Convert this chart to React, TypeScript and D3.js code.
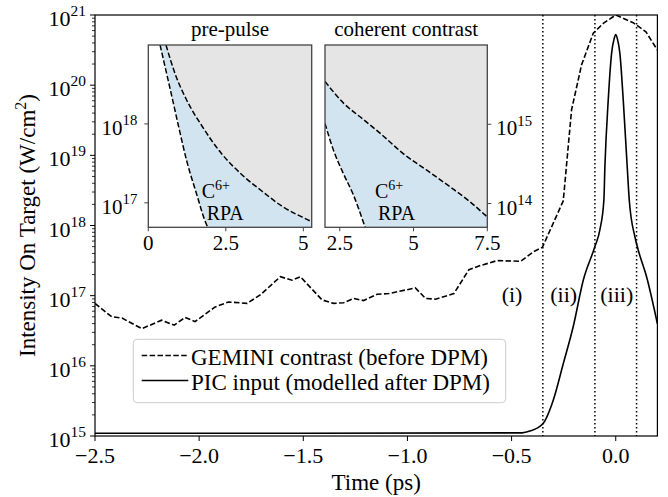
import React from 'react';
import * as d3 from 'd3';

// ---------------- DATA ----------------
// GEMINI measured contrast (dashed), time in ps, log10 intensity (W/cm^2)
const geminiTime = [-2.5, -2.42, -2.37, -2.275, -2.18, -2.12, -2.067, -2.02, -1.923, -1.859, -1.77, -1.707, -1.61, -1.554, -1.514, -1.41, -1.354, -1.306, -1.258, -1.21, -1.146, -1.09, -0.962, -0.913, -0.865, -0.777, -0.705, -0.649, -0.569, -0.457, -0.393, -0.352, -0.252, -0.212, -0.164, -0.108, -0.06, 0.0, 0.084, 0.145, 0.2];
const geminiLogI = [16.89, 16.7, 16.68, 16.53, 16.65, 16.58, 16.69, 16.63, 16.84, 16.91, 16.89, 17.01, 17.27, 17.22, 17.27, 16.94, 16.89, 16.9, 16.96, 16.93, 17.02, 17.03, 17.11, 16.96, 16.95, 17.03, 17.37, 17.43, 17.5, 17.49, 17.63, 17.69, 18.35, 19.65, 20.29, 20.74, 20.88, 21.0, 20.89, 20.76, 20.5];

// PIC input (solid)
const picTime = [-2.5, -1.5, -0.45, -0.412, -0.351, -0.3, -0.252, -0.204, -0.156, -0.1, -0.076, -0.057, -0.052, -0.036, -0.02, -0.008, 0.0, 0.008, 0.02, 0.036, 0.055, 0.065, 0.092, 0.108, 0.148, 0.2];
const picLogI = [15.04, 15.04, 15.045, 15.07, 15.17, 15.51, 16.03, 16.56, 17.22, 17.7, 17.94, 18.36, 18.84, 19.79, 20.45, 20.66, 20.72, 20.66, 20.45, 19.79, 18.84, 18.36, 17.84, 17.65, 17.27, 16.6];

const regionBounds = [-0.35, -0.1, 0.1];
const regionLabels = ['(i)', '(ii)', '(iii)'];

const xTicks = [-2.5, -2.0, -1.5, -1.0, -0.5, 0.0];
const yTickExps = [15, 16, 17, 18, 19, 20, 21];

const legendLabels = ['GEMINI contrast (before DPM)', 'PIC input (modelled after DPM)'];

// Inset 1: pre-pulse
const prePulseUpperX = [0.57, 0.86, 1.24, 1.72, 2.37, 3.01, 3.66, 4.3, 5.22, 5.27];
const prePulseUpperLog = [19.0, 18.64, 18.3, 17.98, 17.62, 17.36, 17.15, 16.96, 16.77, 16.76];
const prePulseLowerX = [0.38, 0.59, 0.81, 0.97, 1.24, 1.56, 1.83, 1.94];
const prePulseLowerLog = [19.0, 18.64, 18.26, 17.98, 17.53, 17.11, 16.77, 16.67];
const prePulseXTicks = [0, 2.5, 5];
const prePulseYTickExps = [17, 18];

// Inset 2: coherent contrast
const coherentUpperX = [2.0, 2.62, 3.3, 3.92, 4.65, 5.45, 6.24, 6.92, 7.5];
const coherentUpperLog = [15.54, 15.27, 15.06, 14.87, 14.63, 14.42, 14.21, 14.02, 13.83];
const coherentLowerX = [2.0, 2.28, 2.62, 2.96, 3.36];
const coherentLowerLog = [15.01, 14.68, 14.38, 14.11, 13.7];
const coherentXTicks = [2.5, 5, 7.5];
const coherentYTickExps = [14, 15];

const insetTitles = ['pre-pulse', 'coherent contrast'];

// ---------------- LAYOUT ----------------
const W = 668, H = 497;
const FONT = "'Liberation Serif', 'DejaVu Serif', serif";
const M = { left: 95, right: 657.4, top: 15, bottom: 436 };

const x = d3.scaleLinear().domain([-2.5, 0.2]).range([M.left, M.right]);
const y = d3.scaleLog().domain([1e15, 1e21]).range([M.bottom, M.top]);

const fmtX = d3.format('.1f');
const fmtInset = d3.format('~g');

const DASH = '5.5 2.4';
const BLUE = '#d2e4f0';
const GRAY = '#e5e5e5';

type Pt = [number, number];
const zip = (xs: number[], ls: number[]): Pt[] => xs.map((v, i) => [v, Math.pow(10, ls[i])]);

function Pow10({ x: px, y: py, exp, anchor, size }: { x: number; y: number; exp: number; anchor: string; size: number }) {
  return (
    <text x={px} y={py} textAnchor={anchor} fontSize={size} fontFamily={FONT} fill="#000">
      10<tspan dy={-size * 0.45} fontSize={size * 0.7}>{exp}</tspan>
    </text>
  );
}

interface InsetProps {
  id: string;
  left: number; right: number; top: number; bottom: number;
  xDomain: [number, number];
  yDomain: [number, number];
  upper: Pt[];
  lower: Pt[];
  xTicks: number[];
  yTickExps: number[];
  yAxisRight: boolean;
  title: string;
  lowerStartsAtTop: boolean;
}

function Inset(p: InsetProps) {
  const sx = d3.scaleLinear().domain(p.xDomain).range([p.left, p.right]);
  const sy = d3.scaleLog().domain(p.yDomain).range([p.bottom, p.top]);
  const line = d3.line<Pt>().x(d => sx(d[0])).y(d => sy(d[1])).curve(d3.curveMonotoneX);
  const upperPath = line(p.upper) || '';
  const lowerPath = line(p.lower) || '';
  const [x0, x1] = p.xDomain;
  const [yb, yt] = p.yDomain;
  // gray region above upper curve
  const grayPath = upperPath + `L${sx(x1)},${sy(yt)}L${sx(p.upper[0][0])},${sy(yt)}Z`;
  // white region below/left of lower curve
  const lastLower = p.lower[p.lower.length - 1];
  const whitePath = p.lowerStartsAtTop
    ? `M${sx(x0)},${sy(yt)}` + lowerPath.replace(/^M/, 'L') + `L${sx(lastLower[0])},${sy(yb)}L${sx(x0)},${sy(yb)}Z`
    : lowerPath + `L${sx(lastLower[0])},${sy(yb)}L${sx(x0)},${sy(yb)}Z`;
  const fs = 21;
  return (
    <g>
      <defs>
        <clipPath id={p.id}>
          <rect x={p.left} y={p.top} width={p.right - p.left} height={p.bottom - p.top} />
        </clipPath>
      </defs>
      <g clipPath={`url(#${p.id})`}>
        <rect x={p.left} y={p.top} width={p.right - p.left} height={p.bottom - p.top} fill={BLUE} />
        <path d={grayPath} fill={GRAY} />
        <path d={whitePath} fill="#fff" />
        <path d={upperPath} fill="none" stroke="#000" strokeWidth={1.5} strokeDasharray={DASH} />
        <path d={lowerPath} fill="none" stroke="#000" strokeWidth={1.5} strokeDasharray={DASH} />
      </g>
      <rect x={p.left} y={p.top} width={p.right - p.left} height={p.bottom - p.top} fill="none" stroke="#444" strokeWidth={1.3} />
      {p.xTicks.map(t => (
        <g key={`xt${t}`}>
          <line x1={sx(t)} x2={sx(t)} y1={p.bottom} y2={p.bottom + 4} stroke="#444" strokeWidth={1} />
          <text x={sx(t)} y={p.bottom + 23} textAnchor="middle" fontSize={fs} fontFamily={FONT}>{fmtInset(t)}</text>
        </g>
      ))}
      {p.yTickExps.map(e => {
        const yy = sy(Math.pow(10, e));
        return (
          <g key={`yt${e}`}>
            {p.yAxisRight
              ? <line x1={p.right} x2={p.right + 4} y1={yy} y2={yy} stroke="#444" strokeWidth={1} />
              : <line x1={p.left - 4} x2={p.left} y1={yy} y2={yy} stroke="#444" strokeWidth={1} />}
            {p.yAxisRight
              ? <Pow10 x={p.right + 9} y={yy + 11} exp={e} anchor="start" size={fs} />
              : <Pow10 x={p.left - 11} y={yy + 11} exp={e} anchor="end" size={fs} />}
          </g>
        );
      })}
      <text x={(p.left + p.right) / 2} y={p.top - 9} textAnchor="middle" fontSize={fs} fontFamily={FONT}>{p.title}</text>
    </g>
  );
}

export default function App() {
  const gemini = zip(geminiTime, geminiLogI);
  const pic = zip(picTime, picLogI);
  const gLine = d3.line<Pt>().x(d => x(d[0])).y(d => y(d[1]));
  const pLine = d3.line<Pt>().x(d => x(d[0])).y(d => y(d[1])).curve(d3.curveMonotoneX);

  const minorTicks: number[] = [];
  for (let e = 15; e < 21; e++) for (let k = 2; k <= 9; k++) minorTicks.push(k * Math.pow(10, e));

  const labelTimes = [regionBounds[0] - 0.148, (regionBounds[0] + regionBounds[1]) / 2 - 0.025, (regionBounds[1] + regionBounds[2]) / 2 + 0.005];
  const fs = 22;

  return (
    <svg width={W} height={H} style={{ position: 'absolute', left: 0, top: 0 }} fontFamily={FONT}>
      <rect width={W} height={H} fill="#fff" />
      <defs>
        <clipPath id="mainclip">
          <rect x={M.left} y={M.top} width={M.right - M.left} height={M.bottom - M.top} />
        </clipPath>
      </defs>

      <g clipPath="url(#mainclip)">
        {regionBounds.map(b => (
          <line key={b} x1={x(b)} x2={x(b)} y1={M.top} y2={M.bottom} stroke="#000" strokeWidth={1.5} strokeDasharray="1.5 2.5" />
        ))}
        <path d={gLine(gemini) || ''} fill="none" stroke="#000" strokeWidth={1.6} strokeDasharray={DASH} />
        <path d={pLine(pic) || ''} fill="none" stroke="#000" strokeWidth={1.6} />
      </g>

      {regionLabels.map((l, i) => (
        <text key={l} x={x(labelTimes[i])} y={302} textAnchor="middle" fontSize={fs}>{l}</text>
      ))}

      {/* frame */}
      <rect x={M.left} y={M.top} width={M.right - M.left} height={M.bottom - M.top} fill="none" stroke="#000" strokeWidth={1.2} />

      {/* x axis */}
      {xTicks.map(t => (
        <g key={t}>
          <line x1={x(t)} x2={x(t)} y1={M.bottom} y2={M.bottom + 5} stroke="#000" strokeWidth={1} />
          <text x={x(t)} y={M.bottom + 27} textAnchor="middle" fontSize={fs}>{fmtX(t)}</text>
        </g>
      ))}
      <text x={(M.left + M.right) / 2} y={490} textAnchor="middle" fontSize={23}>Time (ps)</text>

      {/* y axis */}
      {minorTicks.map(v => (
        <line key={v} x1={M.left - 3} x2={M.left} y1={y(v)} y2={y(v)} stroke="#000" strokeWidth={0.8} />
      ))}
      {yTickExps.map(e => (
        <g key={e}>
          <line x1={M.left - 5} x2={M.left} y1={y(Math.pow(10, e))} y2={y(Math.pow(10, e))} stroke="#000" strokeWidth={1} />
          <Pow10 x={86} y={y(Math.pow(10, e)) + 11} exp={e} anchor="end" size={fs} />
        </g>
      ))}
      <text transform={`translate(35,${(M.top + M.bottom) / 2}) rotate(-90)`} textAnchor="middle" fontSize={23}>
        Intensity On Target (W/cm<tspan dy={-9} fontSize={16}>2</tspan><tspan dy={9}>)</tspan>
      </text>

      {/* legend */}
      <rect x={133.3} y={339.3} width={372.4} height={63.4} rx={4} fill="#fff" fillOpacity={0.8} stroke="#cccccc" strokeWidth={1} />
      <line x1={141.7} x2={188.3} y1={355.5} y2={355.5} stroke="#000" strokeWidth={1.6} strokeDasharray={DASH} />
      <line x1={141.7} x2={188.3} y1={380.5} y2={380.5} stroke="#000" strokeWidth={1.6} />
      <text x={191} y={365} fontSize={23}>{legendLabels[0]}</text>
      <text x={191} y={390} fontSize={23}>{legendLabels[1]}</text>

      {/* insets */}
      <Inset id="inset1" left={148.3} right={311.7} top={45} bottom={227.3}
        xDomain={[0, 5.27]} yDomain={[Math.pow(10, 16.69), 1e19]}
        upper={zip(prePulseUpperX, prePulseUpperLog)} lower={zip(prePulseLowerX, prePulseLowerLog)}
        xTicks={prePulseXTicks} yTickExps={prePulseYTickExps} yAxisRight={false} title={insetTitles[0]} lowerStartsAtTop={true} />
      <Inset id="inset2" left={325} right={487.3} top={45} bottom={227.3}
        xDomain={[2, 7.5]} yDomain={[Math.pow(10, 13.7), 1e16]}
        upper={zip(coherentUpperX, coherentUpperLog)} lower={zip(coherentLowerX, coherentLowerLog)}
        xTicks={coherentXTicks} yTickExps={coherentYTickExps} yAxisRight={true} title={insetTitles[1]} lowerStartsAtTop={false} />

      {/* region annotations in insets */}
      <text x={201.7} y={198} fontSize={20}>C<tspan dy={-8} fontSize={14}>6+</tspan></text>
      <text x={206.7} y={220} fontSize={20}>RPA</text>
      <text x={375} y={198} fontSize={20}>C<tspan dy={-8} fontSize={14}>6+</tspan></text>
      <text x={378} y={220} fontSize={20}>RPA</text>
    </svg>
  );
}
